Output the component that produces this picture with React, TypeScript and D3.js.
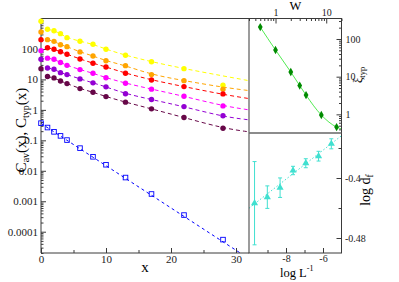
import React, { useEffect, useRef } from 'react'
import * as d3 from 'd3'

// main panel: correlation functions against distance x
const xs = [0, 1, 2, 3, 4, 6, 8, 10, 13, 17, 22, 28]
const cAv = [0.366, 0.263, 0.19, 0.14, 0.102, 0.0555, 0.0288, 0.0158, 0.006, 0.00173, 0.000352, 5.5e-5]
const cAvFitX = [0, 32]
const cAvFitY = [0.36, 1.3e-5]

const typYellow = [809, 443, 398, 318, 235, 179, 143, 98, 62, 38, 22.6, 6.4]
const typOrange = [361, 202, 178, 138, 119, 80, 59, 41, 28.3, 14.4, 9.1, 4.8]
const typRed = [202, 110, 98, 81, 67, 47, 34, 25.7, 16, 9.6, 5.8, 3.35]
const typMagenta = [88, 50, 46, 36, 29, 21, 16, 11.4, 7.5, 4.8, 2.8, 1.35]
const typViolet = [46, 23.8, 21.6, 16.7, 14.4, 10.4, 7.7, 5.7, 3.4, 2.18, 1.28, 0.64]
const typMaroon = [22.6, 12.4, 11.2, 8.9, 7.3, 5.0, 3.8, 2.73, 1.79, 1.08, 0.56, 0.25]
// where the dashed fits run out past the last points (x = 28, 32)
const tailX = [28, 32]
const tailYellow = [13, 9.1]
const tailOrange = [5.5, 4.3]
const tailRed = [3.2, 2.35]
const tailMagenta = [1.35, 1.0]
const tailViolet = [0.6, 0.47]
const tailMaroon = [0.25, 0.19]

const typValues = [typYellow, typOrange, typRed, typMagenta, typViolet, typMaroon]
const typTails = [tailYellow, tailOrange, tailRed, tailMagenta, tailViolet, tailMaroon]
const typColors = ['#ffff00', '#ffa500', '#ff0000', '#ff00ff', '#9400d3', '#670748']

// top inset: xi_typ against W
const wVals = [0.5, 1, 2, 3, 4, 8, 16]
const xiVals = [207, 51, 13.3, 5.8, 3.24, 0.96, 0.46]
const xiFitEndW = 20
const xiFitEnd = 0.41

// bottom inset: log d_f against log 1/L
const logLinv = [-9.70, -9.01, -8.32, -7.62, -6.93, -6.24, -5.55]
const logDf = [-0.4336, -0.4255, -0.4129, -0.39, -0.3803, -0.3709, -0.3544]
const logDfErr = [0.0555, 0.015, 0.013, 0.0056, 0.006, 0.0065, 0.0067]
const dfFitX = [-10, -5]
const dfFitY = [-0.4403, -0.3436]

const mainYTicks = [0.0001, 0.001, 0.01, 0.1, 1, 10, 100]
const mainXTicks = [0, 10, 20, 30]
const wTicks = [1, 10]
const xiTicks = [1, 10, 100]
const lTicks = [-8, -6]
const dfTicks = [-0.48, -0.4]

const serif = "'Liberation Serif', 'DejaVu Serif', serif"
const ink = '#3a3a3a'

function logMinors (lo, hi) {
  const out = []
  for (let e = Math.floor(Math.log10(lo)) - 1; e <= Math.ceil(Math.log10(hi)); e++) {
    for (let k = 2; k <= 9; k++) {
      const v = k * Math.pow(10, e)
      if (v >= lo && v <= hi) out.push(v)
    }
  }
  return out
}

function tidy (g, size) {
  g.attr('font-family', serif).attr('font-size', size)
  g.select('.domain').remove()
  g.selectAll('line').attr('stroke', ink)
  g.selectAll('text').attr('fill', '#222')
}

function draw (svg) {
  // ---------- main panel ----------
  const M = { left: 41, right: 249, top: 18.5, bottom: 253 }
  const x = d3.scaleLinear().domain([0, 32]).range([M.left, M.right])
  const y = d3.scaleLog().domain([2e-5, 1000]).range([M.bottom, M.top])

  svg.append('clipPath').attr('id', 'clipMain')
    .append('rect').attr('x', M.left).attr('y', M.top)
    .attr('width', M.right - M.left).attr('height', M.bottom - M.top)

  const plot = svg.append('g').attr('clip-path', 'url(#clipMain)')
  const line = d3.line().x(d => x(d[0])).y(d => y(d[1]))

  typValues.forEach((vals, i) => {
    const pts = xs.map((xv, j) => [xv, vals[j]]).filter(d => d[0] >= 1 && d[0] <= 22)
    const tail = tailX.map((xv, j) => [xv, typTails[i][j]])
    plot.append('path')
      .datum(pts.concat(tail))
      .attr('fill', 'none')
      .attr('stroke', typColors[i])
      .attr('stroke-width', 1)
      .attr('stroke-dasharray', '4,3')
      .attr('d', line.curve(d3.curveBasis))
  })

  plot.append('path')
    .datum(cAvFitX.map((xv, j) => [xv, cAvFitY[j]]))
    .attr('fill', 'none')
    .attr('stroke', '#0000ff')
    .attr('stroke-width', 1)
    .attr('stroke-dasharray', '3,3')
    .attr('d', line.curve(d3.curveLinear))

  svg.append('g').attr('transform', `translate(${M.left},0)`)
    .call(d3.axisLeft(y).tickValues(mainYTicks).tickSize(-5).tickPadding(3).tickFormat(d => String(d)))
    .call(g => tidy(g, 11))
  svg.append('g').attr('transform', `translate(${M.left},0)`)
    .call(d3.axisLeft(y).tickValues(logMinors(2e-5, 1000)).tickSize(-2.5).tickFormat(() => ''))
    .call(g => tidy(g, 11))
  svg.append('g').attr('transform', `translate(0,${M.bottom})`)
    .call(d3.axisBottom(x).tickValues(mainXTicks).tickSize(-5).tickPadding(2))
    .call(g => tidy(g, 11))
  svg.append('g').attr('transform', `translate(0,${M.bottom})`)
    .call(d3.axisBottom(x).tickValues([5, 15, 25]).tickSize(-3).tickFormat(() => ''))
    .call(g => tidy(g, 11))

  svg.append('path')
    .attr('d', `M${M.right},${M.top}H${M.left}V${M.bottom}H${M.right}`)
    .attr('fill', 'none').attr('stroke', ink).attr('stroke-width', 1)

  // markers sit on top of the frame, unclipped
  typValues.forEach((vals, i) => {
    svg.append('g').selectAll('circle')
      .data(xs.map((xv, j) => [xv, vals[j]]))
      .join('circle')
      .attr('cx', d => x(d[0]))
      .attr('cy', d => y(d[1]))
      .attr('r', 2.7)
      .attr('fill', typColors[i])
  })

  svg.append('g').selectAll('rect')
    .data(xs.map((xv, j) => [xv, cAv[j]]))
    .join('rect')
    .attr('x', d => x(d[0]) - 2.3)
    .attr('y', d => y(d[1]) - 2.3)
    .attr('width', 4.6)
    .attr('height', 4.6)
    .attr('fill', 'none')
    .attr('stroke', '#0000ff')
    .attr('stroke-width', 0.9)

  svg.append('text')
    .attr('x', 145).attr('y', 271.5)
    .attr('text-anchor', 'middle')
    .attr('font-family', serif).attr('font-size', 15)
    .text('x')

  const yl = svg.append('text')
    .attr('transform', 'translate(25.5,130) rotate(-90)')
    .attr('text-anchor', 'middle')
    .attr('font-family', serif).attr('font-size', 15)
  yl.append('tspan').text('C')
  yl.append('tspan').attr('font-size', 10).attr('dy', 3).text('av')
  yl.append('tspan').attr('dy', -3).text('(x), C')
  yl.append('tspan').attr('font-size', 10).attr('dy', 3).text('typ')
  yl.append('tspan').attr('dy', -3).text('(x)')

  // ---------- top inset ----------
  const T = { left: 249, right: 341.5, top: 18.5, bottom: 133 }
  const w = d3.scaleLog().domain([0.3, 20]).range([T.left, T.right])
  const xi = d3.scaleLog().domain([0.32, 350]).range([T.bottom, T.top])

  svg.append('clipPath').attr('id', 'clipTop')
    .append('rect').attr('x', T.left).attr('y', T.top)
    .attr('width', T.right - T.left).attr('height', T.bottom - T.top)
  const top = svg.append('g').attr('clip-path', 'url(#clipTop)')

  const xiPts = wVals.map((v, j) => [v, xiVals[j]]).concat([[xiFitEndW, xiFitEnd]])
  top.append('path')
    .datum(xiPts)
    .attr('fill', 'none')
    .attr('stroke', '#3ee83e')
    .attr('stroke-width', 0.9)
    .attr('d', d3.line().x(d => w(d[0])).y(d => xi(d[1])).curve(d3.curveMonotoneX))
  top.append('g').selectAll('path')
    .data(wVals.map((v, j) => [v, xiVals[j]]))
    .join('path')
    .attr('transform', d => `translate(${w(d[0])},${xi(d[1])})`)
    .attr('d', d3.symbol(d3.symbolDiamond, 20))
    .attr('fill', '#008b00')

  svg.append('g').attr('transform', `translate(0,${T.top})`)
    .call(d3.axisTop(w).tickValues(wTicks).tickSize(-5).tickPadding(2.5).tickFormat(d => String(d)))
    .call(g => tidy(g, 10))
  svg.append('g').attr('transform', `translate(0,${T.top})`)
    .call(d3.axisTop(w).tickValues(logMinors(0.3, 20)).tickSize(-2.5).tickFormat(() => ''))
    .call(g => tidy(g, 10))
  svg.append('g').attr('transform', `translate(${T.right},0)`)
    .call(d3.axisRight(xi).tickValues(xiTicks).tickSize(-5).tickPadding(4).tickFormat(d => String(d)))
    .call(g => tidy(g, 10))
  svg.append('g').attr('transform', `translate(${T.right},0)`)
    .call(d3.axisRight(xi).tickValues(logMinors(0.32, 350)).tickSize(-2.5).tickFormat(() => ''))
    .call(g => tidy(g, 10))

  svg.append('text')
    .attr('x', 295.5).attr('y', 9.5)
    .attr('text-anchor', 'middle')
    .attr('font-family', serif).attr('font-size', 12.5)
    .text('W')

  const xl = svg.append('text')
    .attr('transform', 'translate(362,83) rotate(-90)')
    .attr('font-family', serif).attr('font-size', 12)
  xl.append('tspan').text('ξ')
  xl.append('tspan').attr('font-size', 8.5).attr('dy', 2.5).text('typ')

  // ---------- bottom inset ----------
  const B = { left: 249, right: 341.5, top: 133, bottom: 253 }
  const lx = d3.scaleLinear().domain([-10, -5]).range([B.left, B.right])
  const df = d3.scaleLinear().domain([-0.5, -0.34]).range([B.bottom, B.top])

  svg.append('clipPath').attr('id', 'clipBot')
    .append('rect').attr('x', B.left).attr('y', B.top)
    .attr('width', B.right - B.left).attr('height', B.bottom - B.top)
  const bot = svg.append('g').attr('clip-path', 'url(#clipBot)')

  bot.append('path')
    .datum(dfFitX.map((v, j) => [v, dfFitY[j]]))
    .attr('fill', 'none')
    .attr('stroke', '#40e0d0')
    .attr('stroke-width', 1)
    .attr('stroke-dasharray', '1.5,2')
    .attr('d', d3.line().x(d => lx(d[0])).y(d => df(d[1])))

  const bars = bot.append('g').attr('stroke', '#40e0d0').attr('stroke-width', 1)
  logLinv.forEach((v, j) => {
    const cx = lx(v)
    const y0 = df(logDf[j] - logDfErr[j])
    const y1 = df(logDf[j] + logDfErr[j])
    bars.append('line').attr('x1', cx).attr('x2', cx).attr('y1', y0).attr('y2', y1)
    bars.append('line').attr('x1', cx - 2).attr('x2', cx + 2).attr('y1', y0).attr('y2', y0)
    bars.append('line').attr('x1', cx - 2).attr('x2', cx + 2).attr('y1', y1).attr('y2', y1)
  })
  bot.append('g').selectAll('path')
    .data(logLinv.map((v, j) => [v, logDf[j]]))
    .join('path')
    .attr('transform', d => `translate(${lx(d[0])},${df(d[1])})`)
    .attr('d', d3.symbol(d3.symbolTriangle, 22))
    .attr('fill', '#40e0d0')

  svg.append('g').attr('transform', `translate(0,${B.bottom})`)
    .call(d3.axisBottom(lx).tickValues(lTicks).tickSize(-5).tickPadding(2).tickFormat(d => String(d)))
    .call(g => tidy(g, 10))
  svg.append('g').attr('transform', `translate(0,${B.bottom})`)
    .call(d3.axisBottom(lx).tickValues([-9, -7]).tickSize(-3).tickFormat(() => ''))
    .call(g => tidy(g, 10))
  svg.append('g').attr('transform', `translate(${B.right},0)`)
    .call(d3.axisRight(df).tickValues(dfTicks).tickSize(-5).tickPadding(3.5).tickFormat(d => String(d)))
    .call(g => tidy(g, 10))
  svg.append('g').attr('transform', `translate(${B.right},0)`)
    .call(d3.axisRight(df).tickValues([-0.44, -0.36]).tickSize(-3).tickFormat(() => ''))
    .call(g => tidy(g, 10))

  const ll = svg.append('text')
    .attr('x', 280).attr('y', 276.5)
    .attr('font-family', serif).attr('font-size', 12.5)
  ll.append('tspan').text('log L')
  ll.append('tspan').attr('font-size', 8).attr('dy', -6).text('-1')

  const dl = svg.append('text')
    .attr('transform', 'translate(369.5,190) rotate(-90)')
    .attr('text-anchor', 'middle')
    .attr('font-family', serif).attr('font-size', 14)
  dl.append('tspan').text('log d')
  dl.append('tspan').attr('font-size', 9.5).attr('dy', 3).text('f')

  // inset frames
  svg.append('rect')
    .attr('x', T.left).attr('y', T.top)
    .attr('width', T.right - T.left).attr('height', B.bottom - T.top)
    .attr('fill', 'none').attr('stroke', ink).attr('stroke-width', 1)
  svg.append('line')
    .attr('x1', T.left).attr('x2', T.right).attr('y1', T.bottom).attr('y2', T.bottom)
    .attr('stroke', '#666').attr('stroke-width', 1.6)
}

export default function App () {
  const ref = useRef(null)
  useEffect(() => {
    const svg = d3.select(ref.current)
    svg.selectAll('*').remove()
    draw(svg)
  }, [])
  return (
    <div style={{ position: 'absolute', left: 0, top: 0 }}>
      <svg ref={ref} width={399} height={282} style={{ display: 'block', background: '#fff' }} />
    </div>
  )
}
